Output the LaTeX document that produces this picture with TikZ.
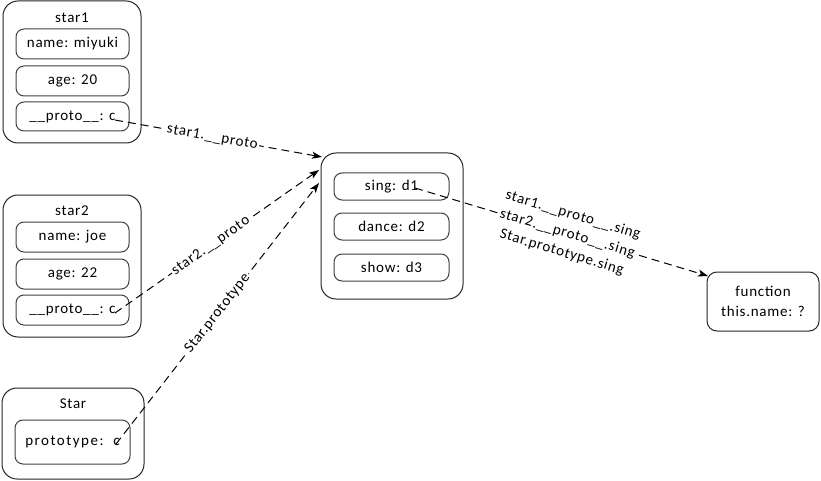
\documentclass[tikz,border=0pt]{standalone}
\usepackage{fontspec}
\setmainfont[LetterSpace=5]{Carlito}
\newfontfamily\spacedfont[LetterSpace=10]{Carlito}
\usetikzlibrary{arrows.meta}
\begin{document}
\begin{tikzpicture}[x=1pt,y=-1pt,
  every node/.style={font=\fontsize{15}{19.5}\selectfont, inner sep=0pt},
  outerbox/.style={draw=black!85, line width=1pt, rounded corners=15pt},
  innerbox/.style={draw=black!75, line width=1pt, rounded corners=8pt},
  ref/.style={dash pattern=on 8pt off 5pt, line width=1pt, -{Stealth[length=10pt,width=7pt,inset=2.5pt]}},
  lbl/.style={fill=white, sloped, inner sep=1.5pt}]
\useasboundingbox (0,0) rectangle (821,481);
% star1
\node[outerbox, minimum width=138pt, minimum height=142pt] (s1) at (72,72) {};
\node (s1t) at (72,18) {star1};
\node[innerbox, minimum width=113pt, minimum height=30pt] (s1n) at (72.5,44) {name: miyuki};
\node[innerbox, minimum width=113pt, minimum height=30pt] (s1a) at (72.5,81) {age: 20};
\node[innerbox, minimum width=113pt, minimum height=29pt] (s1p) at (72.5,116.5) {\_\_proto\_\_: c};
% star2
\node[outerbox, minimum width=138pt, minimum height=142pt] (s2) at (72,266) {};
\node (s2t) at (72,211) {star2};
\node[innerbox, minimum width=113pt, minimum height=30pt] (s2n) at (72.5,237) {name: joe};
\node[innerbox, minimum width=113pt, minimum height=30pt] (s2a) at (72.5,274) {age: 22};
\node[innerbox, minimum width=113pt, minimum height=30pt] (s2p) at (72.5,310) {\_\_proto\_\_: c};
% Star
\node[outerbox, minimum width=142pt, minimum height=91pt] (st) at (73,433.5) {};
\node (stt) at (73,404) {Star};
\node[innerbox, minimum width=115pt, minimum height=44pt] (stp) at (72.5,442) {\spacedfont prototype:\ \ c};
% center
\node[outerbox, minimum width=142pt, minimum height=146pt] (cb) at (392,226) {};
\node[innerbox, minimum width=115pt, minimum height=27pt] (sing) at (391.5,186.5) {sing: d1};
\node[innerbox, minimum width=115pt, minimum height=27pt] (dance) at (391.5,226.5) {dance: d2};
\node[innerbox, minimum width=115pt, minimum height=27pt] (show) at (391.5,267.5) {show: d3};
% function
\node[outerbox, rounded corners=10pt, minimum width=112pt, minimum height=59pt, align=center] (fn) at (763,301.5) {function\\this.name: ?};
% connector points
\coordinate (c1) at (115,120);
\coordinate (c2) at (115,313);
\coordinate (c3) at (116,444);
\coordinate (c4) at (415,188);
\coordinate (e1) at (322,157);
\coordinate (e2) at (319,170);
\coordinate (e3) at (319,183);
\coordinate (e4) at (708,276);
\draw[ref] (c1) -- node[lbl, pos=0.47] {star1.\_\_proto} (e1);
\draw[ref] (c2) -- node[lbl, pos=0.47] {star2.\_\_proto} (e2);
\draw[ref] (c3) -- node[lbl, pos=0.5] {Star.prototype} (e3);
\draw[ref] (c4) -- node[lbl, pos=0.52, align=center] {star1.\_\_proto\_\_.sing\\star2.\_\_proto\_\_.sing\\Star.prototype.sing} (e4);
\end{tikzpicture}
\end{document}
